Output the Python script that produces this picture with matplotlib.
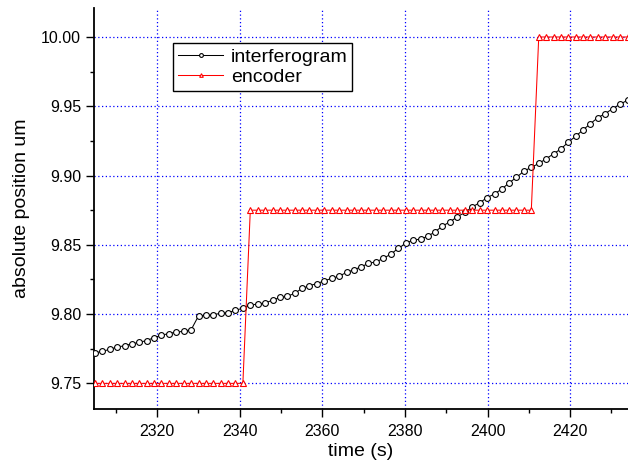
import matplotlib
matplotlib.use("Agg")
import matplotlib.pyplot as plt
from matplotlib.ticker import MultipleLocator, FormatStrFormatter

# time stamps (s)
tiempo = [
    2305.0, 2306.8, 2308.6, 2310.4, 2312.2, 2313.9, 2315.7, 2317.5, 2319.3, 2321.1,
    2322.9, 2324.7, 2326.5, 2328.3, 2330.1, 2331.9, 2333.6, 2335.4, 2337.2, 2339.0,
    2340.8, 2342.6, 2344.4, 2346.2, 2348.0, 2349.8, 2351.5, 2353.3, 2355.1, 2356.9,
    2358.7, 2360.5, 2362.3, 2364.1, 2365.9, 2367.7, 2369.4, 2371.2, 2373.0, 2374.8,
    2376.6, 2378.4, 2380.2, 2382.0, 2383.8, 2385.6, 2387.3, 2389.1, 2390.9, 2392.7,
    2394.5, 2396.3, 2398.1, 2399.9, 2401.7, 2403.5, 2405.2, 2407.0, 2408.8, 2410.6,
    2412.4, 2414.2, 2416.0, 2417.8, 2419.6, 2421.4, 2423.1, 2424.9, 2426.7, 2428.5,
    2430.3, 2432.1, 2433.9,
]

interferograma = [
    9.7720, 9.7731, 9.7746, 9.7762, 9.7772, 9.7785, 9.7796, 9.7809, 9.7830, 9.7847,
    9.7860, 9.7870, 9.7876, 9.7888, 9.7989, 9.7990, 9.7996, 9.8005, 9.8011, 9.8026,
    9.8044, 9.8064, 9.8073, 9.8080, 9.8101, 9.8120, 9.8128, 9.8149, 9.8185, 9.8205,
    9.8220, 9.8240, 9.8258, 9.8274, 9.8301, 9.8320, 9.8341, 9.8366, 9.8377, 9.8402,
    9.8433, 9.8474, 9.8511, 9.8534, 9.8541, 9.8563, 9.8594, 9.8635, 9.8666, 9.8702,
    9.8734, 9.8773, 9.8804, 9.8840, 9.8868, 9.8903, 9.8947, 9.8986, 9.9032, 9.9059,
    9.9087, 9.9121, 9.9157, 9.9193, 9.9242, 9.9285, 9.9329, 9.9374, 9.9418, 9.9447,
    9.9483, 9.9515, 9.9544,
]

# encoder: three flat steps
encoder = [9.75] * 21 + [9.875] * 39 + [10.00] * 13

FUENTE = "Liberation Sans"
AZUL = "#0000ff"
ROJO = "#ff0000"

plt.rcParams["font.family"] = [FUENTE, "DejaVu Sans"]

fig = plt.figure(figsize=(6.28, 4.69), dpi=100)
ax = fig.add_axes([0.1492, 0.1279, 0.8508, 0.8544])

ax.plot(tiempo, interferograma, color="black", linewidth=0.75, marker="o",
        markersize=4.2, markerfacecolor="white", markeredgecolor="black",
        markeredgewidth=0.8, label="interferogram", zorder=3)
ax.plot(tiempo, encoder, color=ROJO, linewidth=0.75, marker="^",
        markersize=4.0, markerfacecolor="white", markeredgecolor=ROJO,
        markeredgewidth=0.8, label="encoder", zorder=3)

ax.set_xlim(2304.7, 2434.0)
ax.set_ylim(9.7315, 10.0207)

ax.xaxis.set_major_locator(MultipleLocator(20))
ax.xaxis.set_minor_locator(MultipleLocator(10))
ax.yaxis.set_major_locator(MultipleLocator(0.05))
ax.yaxis.set_minor_locator(MultipleLocator(0.025))
ax.yaxis.set_major_formatter(FormatStrFormatter("%.2f"))

ax.grid(True, which="major", color=AZUL, linestyle=(0, (1, 2)), linewidth=0.9)
ax.set_axisbelow(True)

for lado in ("top", "right"):
    ax.spines[lado].set_visible(False)
for lado in ("left", "bottom"):
    ax.spines[lado].set_linewidth(1.3)

ax.tick_params(which="major", direction="out", length=5.5, width=1.0,
               labelsize=11.5, pad=3.5)
ax.tick_params(which="minor", direction="out", length=3.0, width=1.0)
ax.tick_params(axis="x", which="major", pad=5)

ax.set_xlabel("time (s)", fontsize=14, labelpad=3)
ax.set_ylabel("absolute position um", fontsize=14, labelpad=8)

ley = ax.legend(loc="upper left", bbox_to_anchor=(0.149, 0.9127),
                borderaxespad=0, fontsize=14, fancybox=False, framealpha=1,
                edgecolor="black", handlelength=2.3, handletextpad=0.4,
                labelspacing=0.15, borderpad=0.25, markerscale=0.65)
ley.get_frame().set_linewidth(1.0)

fig.savefig("out.png", dpi=100)
